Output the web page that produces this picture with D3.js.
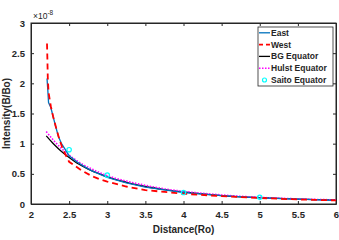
<!DOCTYPE html>
<html>
<head>
<meta charset="utf-8">
<script src="https://cdn.jsdelivr.net/npm/d3@7"></script>
<style>
  body { margin: 0; background: #fff; }
  text { font-family: "Liberation Sans", Arial, sans-serif; font-weight: bold; }
</style>
</head>
<body>
<script>
// values (units of 1e-8)
const eastX = [2.21, 2.22, 2.23, 2.26, 2.29, 2.32, 2.36, 2.4, 2.45, 2.5, 2.6, 2.7, 2.8, 3.0, 3.25, 3.5, 4, 4.5, 5, 5.5, 6];
const eastY = [2.08, 1.9, 1.68, 1.6, 1.45, 1.3, 1.12, 1.0, 0.9, 0.8, 0.7, 0.62, 0.55, 0.44, 0.35, 0.28, 0.19, 0.14, 0.1, 0.08, 0.06];
const westX = [2.21, 2.215, 2.22, 2.23, 2.26, 2.29, 2.33, 2.37, 2.42, 2.5, 2.66, 2.8, 2.9, 3.0, 3.25, 3.5, 3.75, 4, 4.5, 5, 5.5, 6];
const westY = [2.66, 2.4, 2.1, 1.85, 1.62, 1.45, 1.26, 1.08, 0.9, 0.7, 0.56, 0.46, 0.41, 0.37, 0.29, 0.23, 0.2, 0.17, 0.13, 0.1, 0.075, 0.06];
const bgX = [2.2, 2.3, 2.4, 2.5, 2.6, 2.7, 2.8, 2.9, 3.0, 3.25, 3.5, 3.75, 4, 4.5, 5, 5.5, 6];
const bgY = [1.13, 0.99, 0.87, 0.77, 0.68, 0.61, 0.55, 0.5, 0.45, 0.36, 0.29, 0.24, 0.2, 0.14, 0.105, 0.08, 0.065];
const hulstX = [2.2, 2.3, 2.4, 2.5, 2.6, 2.7, 2.8, 2.9, 3.0, 3.25, 3.5, 3.75, 4, 4.5, 5, 5.5, 6];
const hulstY = [1.2, 1.05, 0.92, 0.81, 0.72, 0.64, 0.58, 0.52, 0.47, 0.38, 0.31, 0.25, 0.21, 0.15, 0.11, 0.085, 0.068];
const saitoX = [2.5, 3, 4, 5];
const saitoY = [0.9, 0.48, 0.19, 0.11];
const xTicks = [2, 2.5, 3, 3.5, 4, 4.5, 5, 5.5, 6];
const yTicks = [0, 0.5, 1, 1.5, 2, 2.5, 3];

const W = 339, H = 240;
const m = { left: 31, right: 3, top: 23, bottom: 36 };
const axisColor = "#262626";

const svg = d3.select("body").append("svg")
    .attr("width", W)
    .attr("height", H);

const x = d3.scaleLinear().domain([2, 6]).range([m.left, W - m.right]);
const y = d3.scaleLinear().domain([0, 3]).range([H - m.bottom, m.top]);

function zip(xs, ys) { return xs.map((v, i) => [v, ys[i]]); }
const line = d3.line().x(d => x(d[0])).y(d => y(d[1])).curve(d3.curveMonotoneX);

// plot box
svg.append("rect")
    .attr("x", m.left).attr("y", m.top)
    .attr("width", W - m.right - m.left).attr("height", H - m.bottom - m.top)
    .attr("fill", "none").attr("stroke", axisColor).attr("stroke-width", 1);

// axes (ticks inward)
const gx = svg.append("g").attr("transform", `translate(0,${H - m.bottom})`)
    .call(d3.axisBottom(x).tickValues(xTicks).tickSizeInner(-3).tickSizeOuter(0).tickPadding(7).tickFormat(d3.format("")));
const gxTop = svg.append("g").attr("transform", `translate(0,${m.top})`)
    .call(d3.axisTop(x).tickValues(xTicks).tickSizeInner(-3).tickSizeOuter(0).tickFormat(""));
const gy = svg.append("g").attr("transform", `translate(${m.left},0)`)
    .call(d3.axisLeft(y).tickValues(yTicks).tickSizeInner(-3).tickSizeOuter(0).tickPadding(6).tickFormat(d3.format("")));
const gyR = svg.append("g").attr("transform", `translate(${W - m.right},0)`)
    .call(d3.axisRight(y).tickValues(yTicks).tickSizeInner(-3).tickSizeOuter(0).tickFormat(""));

[gx, gxTop, gy, gyR].forEach(g => {
    g.select(".domain").attr("stroke", axisColor);
    g.selectAll(".tick line").attr("stroke", axisColor);
    g.selectAll("text").attr("fill", axisColor).style("font-size", "9.5px").style("font-family", "Liberation Sans, Arial, sans-serif").style("font-weight", "bold");
});

// series
svg.append("path").datum(zip(bgX, bgY)).attr("d", line)
    .attr("fill", "none").attr("stroke", "#000").attr("stroke-width", 1.3);
svg.append("path").datum(zip(hulstX, hulstY)).attr("d", line)
    .attr("fill", "none").attr("stroke", "#ff00ff").attr("stroke-width", 1.6).attr("stroke-dasharray", "1.5,1.5");
svg.append("path").datum(zip(eastX, eastY)).attr("d", d3.line().x(d => x(d[0])).y(d => y(d[1])))
    .attr("fill", "none").attr("stroke", "#0072bd").attr("stroke-width", 1.3);
svg.append("path").datum(zip(westX, westY)).attr("d", d3.line().x(d => x(d[0])).y(d => y(d[1])))
    .attr("fill", "none").attr("stroke", "#ff0000").attr("stroke-width", 1.8).attr("stroke-dasharray", "6,4");
svg.selectAll("circle.saito").data(zip(saitoX, saitoY)).enter().append("circle")
    .attr("cx", d => x(d[0])).attr("cy", d => y(d[1])).attr("r", 2.2)
    .attr("fill", "none").attr("stroke", "#00ffff").attr("stroke-width", 1.2);

// exponent label
const ex = svg.append("text").attr("x", m.left + 2).attr("y", m.top - 4)
    .attr("fill", axisColor).style("font-size", "8.5px").style("font-weight", "normal");
ex.append("tspan").text("\u00d710");
ex.append("tspan").attr("dy", -4).style("font-size", "6.5px").text("-8");

// axis labels
svg.append("text").attr("x", (m.left + W - m.right) / 2).attr("y", H - 7)
    .attr("text-anchor", "middle").attr("fill", axisColor).style("font-size", "10px")
    .text("Distance(Ro)");
svg.append("text").attr("transform", `translate(10,${(m.top + H - m.bottom) / 2}) rotate(-90)`)
    .attr("text-anchor", "middle").attr("fill", axisColor).style("font-size", "10px")
    .text("Intensity(B/Bo)");

// legend
const legendItems = [
    { name: "East", color: "#0072bd", dash: null, w: 1.3 },
    { name: "West", color: "#ff0000", dash: "4,3", w: 1.8 },
    { name: "BG Equator", color: "#000", dash: null, w: 1.3 },
    { name: "Hulst Equator", color: "#ff00ff", dash: "1.5,1.5", w: 1.6 },
    { name: "Saito Equator", color: "#00ffff", marker: true }
];
const lg = svg.append("g");
lg.append("rect").attr("x", 258).attr("y", 27).attr("width", 75).attr("height", 59)
    .attr("fill", "#fff").attr("stroke", axisColor).attr("stroke-width", 0.8);
legendItems.forEach((d, i) => {
    const yy = 32.8 + i * 11.8;
    if (d.marker) {
        lg.append("circle").attr("cx", 264.5).attr("cy", yy).attr("r", 2)
            .attr("fill", "none").attr("stroke", d.color).attr("stroke-width", 1.2);
    } else {
        lg.append("line").attr("x1", 259).attr("x2", 270).attr("y1", yy).attr("y2", yy)
            .attr("stroke", d.color).attr("stroke-width", d.w).attr("stroke-dasharray", d.dash);
    }
    lg.append("text").attr("x", 271).attr("y", yy + 3).attr("fill", axisColor)
        .style("font-size", "8.5px").text(d.name);
});
</script>
</body>
</html>
